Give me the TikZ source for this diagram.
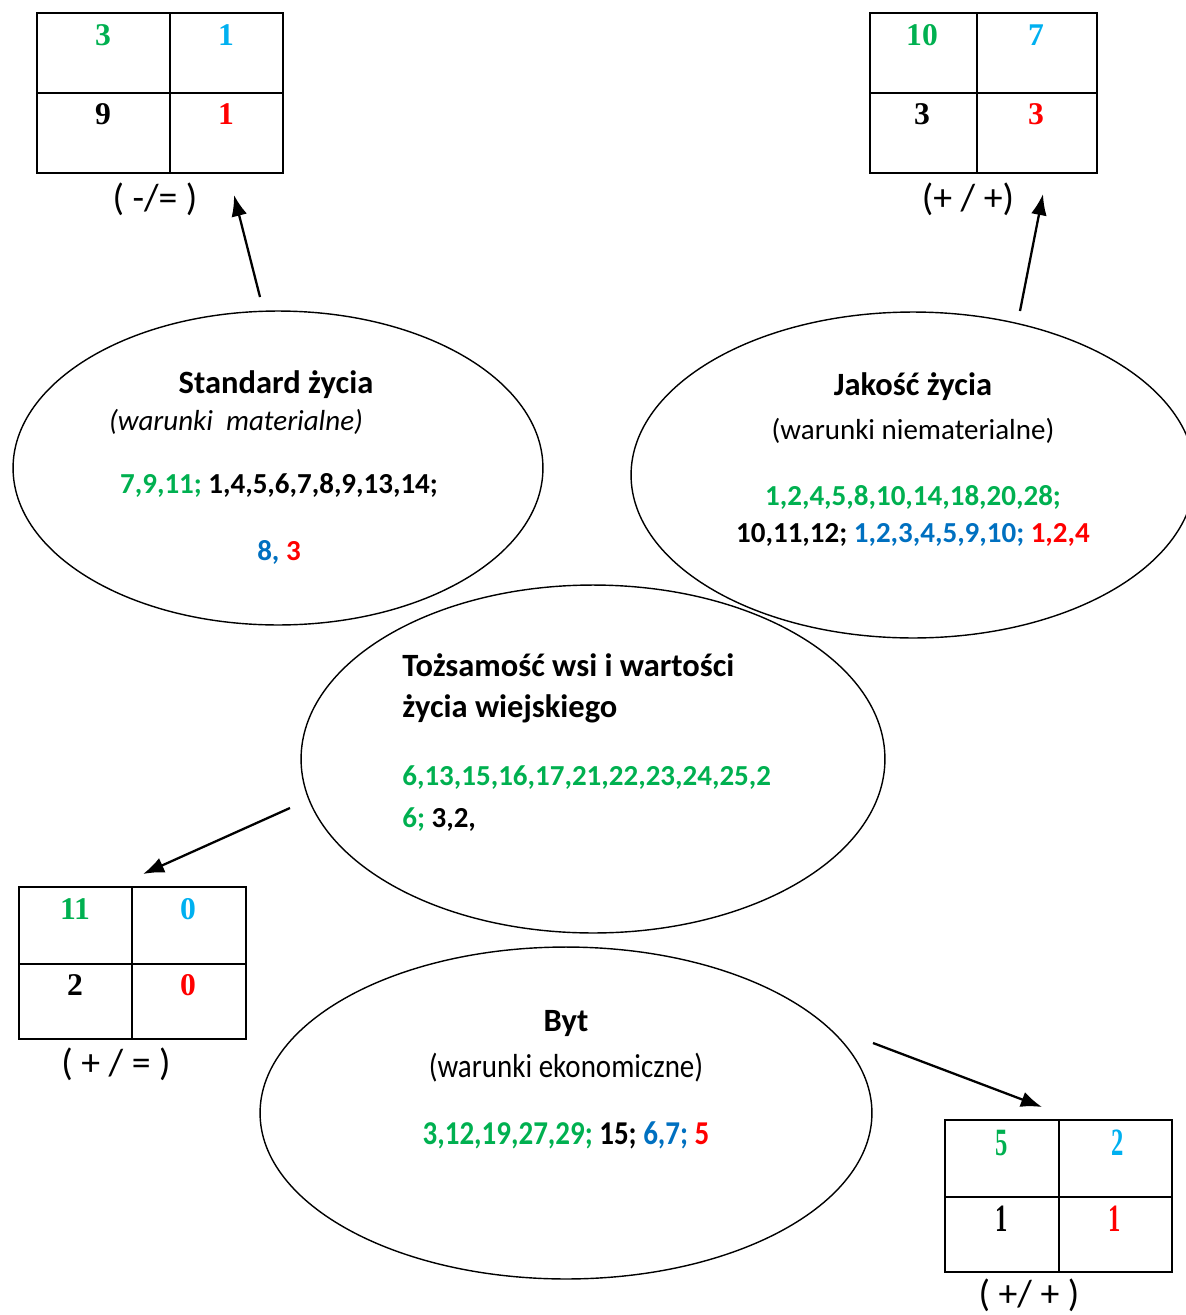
\documentclass[tikz,border=0pt]{standalone}
\usepackage{fontspec}
\setmainfont{Carlito}
\newfontfamily\numfont{Liberation Serif}
\usepackage{graphicx}
\usetikzlibrary{shapes.geometric, arrows.meta, positioning}
\definecolor{xgreen}{RGB}{0,176,80}
\definecolor{xcyan}{RGB}{0,176,240}
\definecolor{xblue}{RGB}{0,112,192}
\definecolor{xred}{RGB}{255,0,0}
\tikzset{
	topic/.style={ellipse, draw, line width=0.8pt, inner sep=0pt},
	tabline/.style={line width=1.4pt},
	num/.style={font=\numfont\bfseries\fontsize{18}{20}\selectfont, inner sep=0pt},
	thin num/.style={font=\numfont\fontsize{20}{22}\selectfont, inner sep=0pt},
	head/.style={font=\bfseries\fontsize{18.5}{21}\selectfont, inner sep=0pt},
	txt/.style={font=\bfseries\fontsize{16.5}{19}\selectfont, inner sep=0pt},
	note/.style={font=\fontsize{16.5}{19}\selectfont, inner sep=0pt},
	sign/.style={font=\fontsize{21.5}{24}\selectfont, inner sep=0pt},
	myarrow/.style={-{Latex[length=12pt,width=9pt]}, line width=1.3pt}
}

\begin{document}
\begin{tikzpicture}[x=0.02cm, y=-0.02cm]
	\clip (0,0) rectangle (1186,1315);
	
	%% ---- Ellipses ----
	\node[topic, minimum width=10.6cm, minimum height=6.28cm]  (std) at (278,468) {};
	\node[topic, minimum width=11.28cm, minimum height=6.52cm] (jak) at (913,475) {};
	\node[topic, minimum width=11.68cm, minimum height=6.96cm] (toz) at (593,759) {};
	\node[topic, minimum width=12.24cm, minimum height=6.64cm] (byt) at (566,1113) {};
	
	%% ---- Standard zycia ----
	\node[head] (st1) at (276,385) {Standard życia};
	\node[note] (st2) at (236,422) {\itshape(warunki\ \ materialne)};
	\node[txt]  (st3) at (279,485) {\textcolor{xgreen}{7,9,11;} 1,4,5,6,7,8,9,13,14;};
	\node[txt]  (st4) at (279,552) {\textcolor{xblue}{8,} \textcolor{xred}{3}};
	
	%% ---- Jakosc zycia ----
	\node[head] (jk1) at (913,387) {Jakość życia};
	\node[note] (jk2) at (913,431) {(warunki niematerialne)};
	\node[txt]  (jk3) at (913,497) {\textcolor{xgreen}{1,2,4,5,8,10,14,18,20,28;}};
	\node[txt]  (jk4) at (913,535) {10,11,12; \textcolor{xblue}{1,2,3,4,5,9,10;} \textcolor{xred}{1,2,4}};
	
	%% ---- Tozsamosc wsi ----
	\node[head, anchor=west] (tz1) at (402,665) {Tożsamość wsi i wartości};
	\node[head, anchor=west] (tz2) at (402,709) {życia wiejskiego};
	\node[txt, anchor=west]  (tz3) at (402,778) {\textcolor{xgreen}{6,13,15,16,17,21,22,23,24,25,2}};
	\node[txt, anchor=west]  (tz4) at (402,820) {\textcolor{xgreen}{6;} 3,2,};
	
	%% ---- Byt ----
	\node[head] (by1) at (566,1024) {Byt};
	\node[note] (by2) at (566,1068) {\scalebox{1}[1.15]{(warunki ekonomiczne)}};
	\node[txt]  (by3) at (566,1135) {\scalebox{1}[1.15]{\textcolor{xgreen}{3,12,19,27,29;} 15; \textcolor{xblue}{6,7;} \textcolor{xred}{5}}};
	
	%% ---- Tables ----
	\draw[tabline] (37,13) rectangle (283,173) (170,13) -- (170,173) (37,93) -- (283,93);
	\node[num, xgreen] (s11) at (103,35)  {3};
	\node[num, xcyan]  (s12) at (226,35)  {1};
	\node[num]         (s21) at (103,114) {9};
	\node[num, xred]   (s22) at (226,114) {1};
	\node[sign] (sl) at (155,199) {( -/= )};
	
	\draw[tabline] (870,13) rectangle (1097,173) (977,13) -- (977,173) (870,93) -- (1097,93);
	\node[num, xgreen] (j11) at (922,35)   {10};
	\node[num, xcyan]  (j12) at (1036,35)  {7};
	\node[num]         (j21) at (922,114)  {3};
	\node[num, xred]   (j22) at (1036,114) {3};
	\node[sign] (jl) at (968,199) {(+ / +)};
	
	\draw[tabline] (19,887) rectangle (246,1039) (132,887) -- (132,1039) (19,964) -- (246,964);
	\node[num, xgreen] (t11) at (75,909)  {11};
	\node[num, xcyan]  (t12) at (188,909) {0};
	\node[num]         (t21) at (75,985)  {2};
	\node[num, xred]   (t22) at (188,985) {0};
	\node[sign] (tl) at (116,1064) {( + / = )};
	
	\draw[tabline] (945,1120) rectangle (1172,1272) (1059,1120) -- (1059,1272) (945,1197) -- (1172,1197);
	\node[thin num, xgreen] (b11) at (1002,1143) {\scalebox{0.7}[1.1]{\bfseries 5}};
	\node[thin num, xcyan]  (b12) at (1118,1143) {\scalebox{0.7}[1.1]{\bfseries 2}};
	\node[thin num]         (b21) at (1002,1219) {\scalebox{0.7}[1.1]{\bfseries 1}};
	\node[thin num, xred]   (b22) at (1115,1219) {\scalebox{0.7}[1.1]{\bfseries 1}};
	\node[sign] (bl) at (1029,1295) {( +/ + )};
	
	%% ---- Arrows ----
	\coordinate (a1s) at (260,297);  \coordinate (a1e) at (234,195);
	\coordinate (a2s) at (1020,311); \coordinate (a2e) at (1043,194);
	\coordinate (a3s) at (290,808);  \coordinate (a3e) at (143,874);
	\coordinate (a4s) at (873,1043); \coordinate (a4e) at (1042,1107);
	\draw[myarrow] (a1s) -- (a1e);
	\draw[myarrow] (a2s) -- (a2e);
	\draw[myarrow] (a3s) -- (a3e);
	\draw[myarrow] (a4s) -- (a4e);
	
\end{tikzpicture}
\end{document}
